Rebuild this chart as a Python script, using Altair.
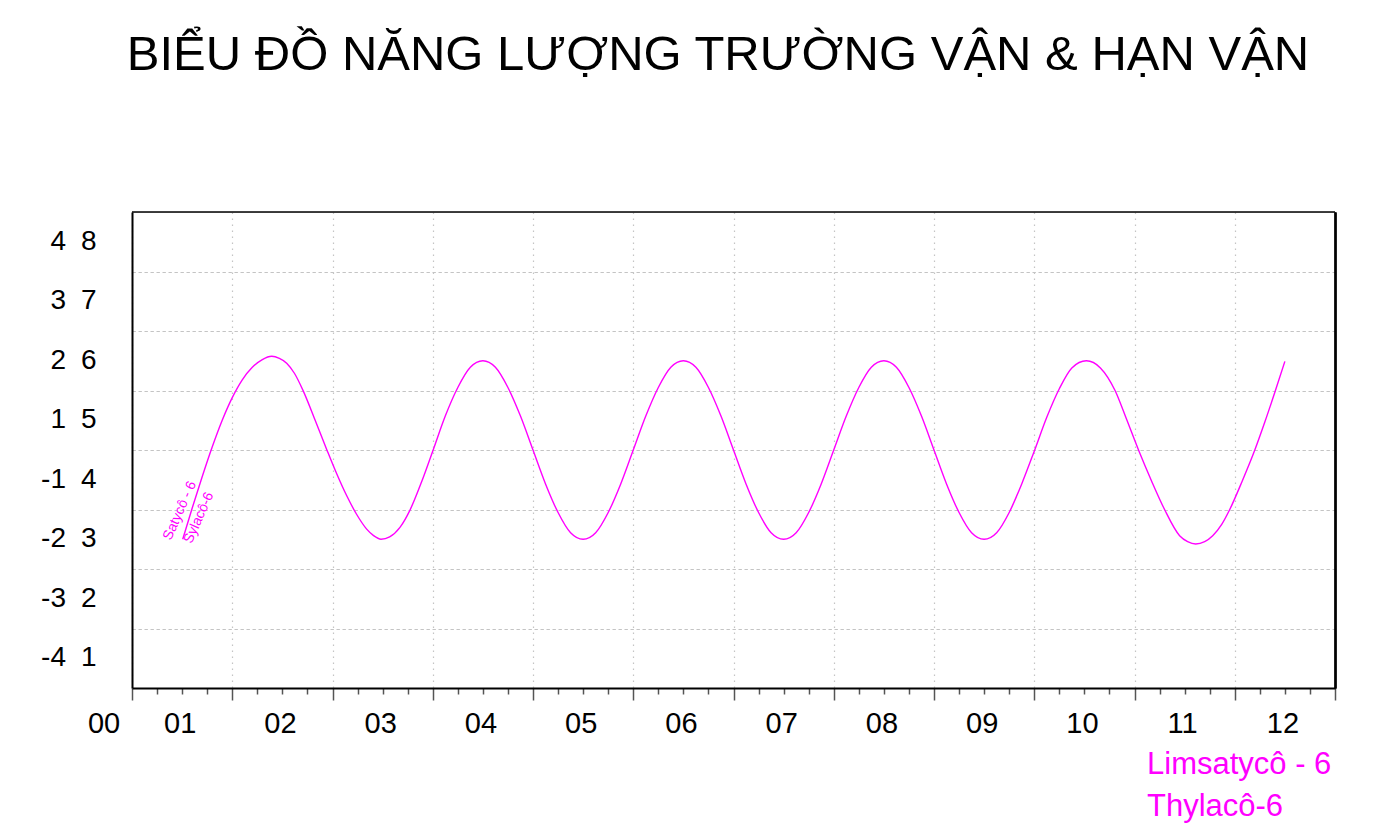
import altair as alt
import pandas as pd

# ---------------- data ----------------
title_text = "BIỂU ĐỒ NĂNG LƯỢNG TRƯỜNG VẬN & HẠN VẬN"

# curve: month position and level (in band units, 0 = bottom band edge)
curve_x = [0.506, 0.60, 0.70, 0.80, 0.90, 1.00, 1.10, 1.20, 1.30, 1.394,
           1.47, 1.543, 1.62, 1.709, 1.82, 1.942, 2.042, 2.142, 2.24, 2.341,
           2.41, 2.484, 2.57, 2.673, 2.773, 2.89, 3.006,
           3.125, 3.25, 3.375, 3.5, 3.625, 3.75, 3.875, 4.0,
           4.125, 4.25, 4.375, 4.5, 4.625, 4.75, 4.875, 5.0,
           5.125, 5.25, 5.375, 5.5, 5.625, 5.75, 5.875, 6.0,
           6.125, 6.25, 6.375, 6.5, 6.625, 6.75, 6.875, 7.0,
           7.125, 7.25, 7.375, 7.5, 7.625, 7.75, 7.875, 8.0,
           8.125, 8.25, 8.375, 8.5, 8.625, 8.75, 8.875, 9.0,
           9.125, 9.25, 9.375, 9.52, 9.66, 9.806, 9.92, 10.04,
           10.17, 10.30, 10.45, 10.53, 10.61, 10.70, 10.78, 10.87, 10.95,
           11.075, 11.20, 11.30, 11.40, 11.50]
curve_y = [2.50, 3.02, 3.55, 4.05, 4.50, 4.88, 5.18, 5.39, 5.52, 5.575,
           5.54, 5.46, 5.29, 4.99, 4.53, 4.01, 3.60, 3.23, 2.92, 2.67,
           2.56, 2.50, 2.54, 2.70, 2.99, 3.47, 4.01,
           4.57, 5.05, 5.39, 5.50, 5.39, 5.05, 4.57, 4.00,
           3.43, 2.95, 2.61, 2.50, 2.61, 2.95, 3.43, 4.00,
           4.57, 5.05, 5.39, 5.50, 5.39, 5.05, 4.57, 4.00,
           3.43, 2.95, 2.61, 2.50, 2.61, 2.95, 3.43, 4.00,
           4.57, 5.05, 5.39, 5.50, 5.39, 5.05, 4.57, 4.00,
           3.43, 2.95, 2.61, 2.50, 2.61, 2.95, 3.43, 3.98,
           4.55, 5.03, 5.38, 5.50, 5.38, 5.00, 4.52, 4.00,
           3.48, 3.00, 2.56, 2.46, 2.42, 2.46, 2.56, 2.75, 3.00,
           3.48, 4.00, 4.47, 4.97, 5.49]

month_labels = ["01", "02", "03", "04", "05", "06", "07", "08", "09", "10", "11", "12"]
zero_label = "00"

y_left_labels = ["4", "3", "2", "1", "-1", "-2", "-3", "-4"]
y_right_labels = ["8", "7", "6", "5", "4", "3", "2", "1"]

ann_text = ["Satycô - 6", "Sylacô-6"]
ann_x = [0.479, 0.668]
ann_y = [2.98, 2.86]

legend_lines = ["Limsatycô - 6", "Thylacô-6"]

# ---------------- frames ----------------
curve_df = pd.DataFrame({"x": curve_x, "y": curve_y})
xlab_df = pd.DataFrame({"t": month_labels,
                        "x": [i + 0.5 for i in range(len(month_labels))]})
ylab_df = pd.DataFrame({"l": y_left_labels, "r": y_right_labels,
                        "y": [len(y_left_labels) - 0.5 - k for k in range(len(y_left_labels))]})
ann_df = pd.DataFrame({"t": ann_text, "x": ann_x, "y": ann_y})
title_df = pd.DataFrame({"t": [title_text]})
zero_df = pd.DataFrame({"t": [zero_label]})
leg_df = pd.DataFrame({"t": legend_lines, "k": list(range(len(legend_lines)))})
frame_df = pd.DataFrame({"k": [0]})

W, H = 1203, 476
MAG = "#ff00ff"
FONT = "Liberation Sans"
GRID = "#c4c4c4"

xscale = alt.Scale(domain=[0, 12], nice=False, zero=False)
yscale = alt.Scale(domain=[0, 8], nice=False, zero=False)

xaxis = alt.Axis(
    values=[k * 0.25 for k in range(49)],
    labels=False, title=None,
    tickSize={"condition": {"test": "datum.value % 1 === 0", "value": 12}, "value": 6},
    tickColor="#555555", tickWidth=1.5,
    domainColor="black", domainWidth=2,
    grid=True, gridColor=GRID, gridDash=[1.5, 4.5], gridWidth=1.2,
    gridOpacity={"condition": {"test": "datum.value % 1 === 0", "value": 1}, "value": 0},
)
yaxis = alt.Axis(
    values=[1, 2, 3, 4, 5, 6, 7],
    labels=False, ticks=False, title=None,
    domainColor="black", domainWidth=2,
    grid=True, gridColor=GRID, gridDash=[1.5, 4.5], gridWidth=1.2,
)


def X(f):
    return alt.X(f, type="quantitative", scale=xscale, axis=xaxis)


def Y(f):
    return alt.Y(f, type="quantitative", scale=yscale, axis=yaxis)


top_edge = alt.Chart(frame_df).mark_rule(color="black", strokeWidth=1.5).encode(
    x=alt.value(0), x2=alt.value(W), y=alt.value(0)
)

line = alt.Chart(curve_df).mark_line(
    interpolate="monotone", color=MAG, strokeWidth=1.4
).encode(x=X("x"), y=Y("y"))

ann = alt.Chart(ann_df).mark_text(
    angle=294, fontSize=14, color=MAG, font=FONT, align="center", baseline="middle"
).encode(x=X("x"), y=Y("y"), text="t:N")

xlabels = alt.Chart(xlab_df).mark_text(
    fontSize=29, font=FONT, color="black", align="center", baseline="alphabetic", dx=-2
).encode(x=X("x"), y=alt.value(H + 45), text="t:N")

zero = alt.Chart(zero_df).mark_text(
    fontSize=29, font=FONT, color="black", align="center", baseline="alphabetic"
).encode(x=alt.value(-28), y=alt.value(H + 45), text="t:N")

yl = alt.Chart(ylab_df).mark_text(
    fontSize=28, font=FONT, color="black", align="right", baseline="middle"
).encode(x=alt.value(-66), y=Y("y"), text="l:N")

yr = alt.Chart(ylab_df).mark_text(
    fontSize=28, font=FONT, color="black", align="left", baseline="middle"
).encode(x=alt.value(-51), y=Y("y"), text="r:N")

title = alt.Chart(title_df).mark_text(
    fontSize=49, font=FONT, color="black", align="center", baseline="alphabetic"
).encode(x=alt.value(586), y=alt.value(-142), text="t:N")

leg = alt.Chart(leg_df).mark_text(
    fontSize=31, font=FONT, color=MAG, align="left", baseline="alphabetic"
).encode(x=alt.value(1015),
         y=alt.Y("k:Q", scale=alt.Scale(domain=[0, 1], range=[562, 604]), axis=None),
         text="t:N")

chart = alt.layer(line, top_edge, ann, xlabels, zero, yl, yr, title, leg).resolve_scale(
    y="independent"
).properties(
    width=W, height=H,
    autosize=alt.AutoSizeParams(type="none"),
    padding={"left": 124, "top": 204, "right": 50, "bottom": 140},
).configure_view(
    stroke="black", strokeWidth=2
).configure(background="white")

chart.save("out.html", embed_options={"renderer": "svg", "actions": False})
